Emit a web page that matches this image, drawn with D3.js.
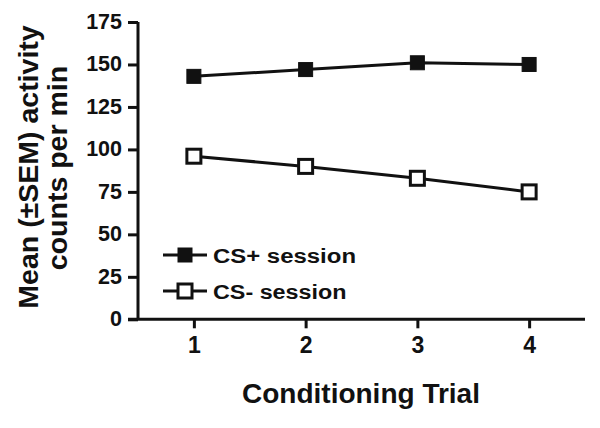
<!DOCTYPE html>
<html><head><meta charset="utf-8">
<script src="https://cdn.jsdelivr.net/npm/d3@7"></script>
<style>body{margin:0;background:#fff}svg{display:block}text{font-family:"Liberation Sans",Arial,sans-serif;font-weight:bold;fill:#111}</style>
</head><body><svg id="c" width="600" height="428"></svg>
<script>
const trials = [1, 2, 3, 4];
const csPlus = [143, 147, 151, 150];
const csMinus = [96, 90, 83, 75];
const yTicks = [0, 25, 50, 75, 100, 125, 150, 175];
const seriesNames = ["CS+ session", "CS- session"];

const svg = d3.select("#c");
const x = d3.scaleLinear().domain([0.5, 4.5]).range([138, 585]);
const y = d3.scaleLinear().domain([0, 175]).range([319.3, 22]);
const ink = "#111";

// axes
const ya = svg.append("g").attr("transform", "translate(138,0)")
  .call(d3.axisLeft(y).tickValues(yTicks).tickSize(10).tickPadding(6).tickSizeOuter(0));
const xa = svg.append("g").attr("transform", "translate(0,319.3)")
  .call(d3.axisBottom(x).tickValues(trials).tickSize(9).tickPadding(8).tickSizeOuter(0).tickFormat(d3.format("d")));
[ya, xa].forEach(g => {
  g.selectAll("path,line").attr("stroke", ink).attr("stroke-width", 3);
  g.selectAll("text").attr("fill", ink);
});
ya.selectAll("text").style("font-size", "21.5px").attr("dy", "0.3em");
xa.selectAll("text").style("font-size", "23px");
ya.select(".domain").attr("d", "M0,22V319.3");
xa.select(".domain").attr("d", "M128,0H585");

// lines
const line = d3.line().x((d, i) => x(trials[i])).y(d => y(d));
const sq = 14;
function drawSeries(vals, filled) {
  svg.append("path").datum(vals).attr("d", line).attr("fill", "none").attr("stroke", ink).attr("stroke-width", 3);
  svg.selectAll(null).data(vals).enter().append("rect")
    .attr("x", (d, i) => x(trials[i]) - sq / 2).attr("y", d => y(d) - sq / 2)
    .attr("width", sq).attr("height", sq)
    .attr("fill", filled ? ink : "#fff").attr("stroke", ink).attr("stroke-width", filled ? 1 : 3);
}
drawSeries(csPlus, true);
drawSeries(csMinus, false);

// legend
const leg = [{name: seriesNames[0], filled: true, yy: 255, len: 143}, {name: seriesNames[1], filled: false, yy: 291, len: 133.5}];
leg.forEach(l => {
  svg.append("line").attr("x1", 163).attr("x2", 207).attr("y1", l.yy).attr("y2", l.yy).attr("stroke", ink).attr("stroke-width", 3);
  svg.append("rect").attr("x", 185 - sq / 2).attr("y", l.yy - sq / 2).attr("width", sq).attr("height", sq)
    .attr("fill", l.filled ? ink : "#fff").attr("stroke", ink).attr("stroke-width", l.filled ? 1 : 3);
  svg.append("text").attr("x", 213).attr("y", l.yy + 7.5).style("font-size", "19.5px")
    .attr("textLength", l.len).attr("lengthAdjust", "spacingAndGlyphs").text(l.name);
});

// axis titles
svg.append("text").attr("x", 361).attr("y", 403).attr("text-anchor", "middle").style("font-size", "28px").text("Conditioning Trial");
svg.append("text").attr("transform", "translate(38,167) rotate(-90)").attr("text-anchor", "middle").style("font-size", "28.5px").text("Mean (±SEM) activity");
svg.append("text").attr("transform", "translate(67,168) rotate(-90)").attr("text-anchor", "middle").style("font-size", "28.5px").text("counts per min");
</script></body></html>
